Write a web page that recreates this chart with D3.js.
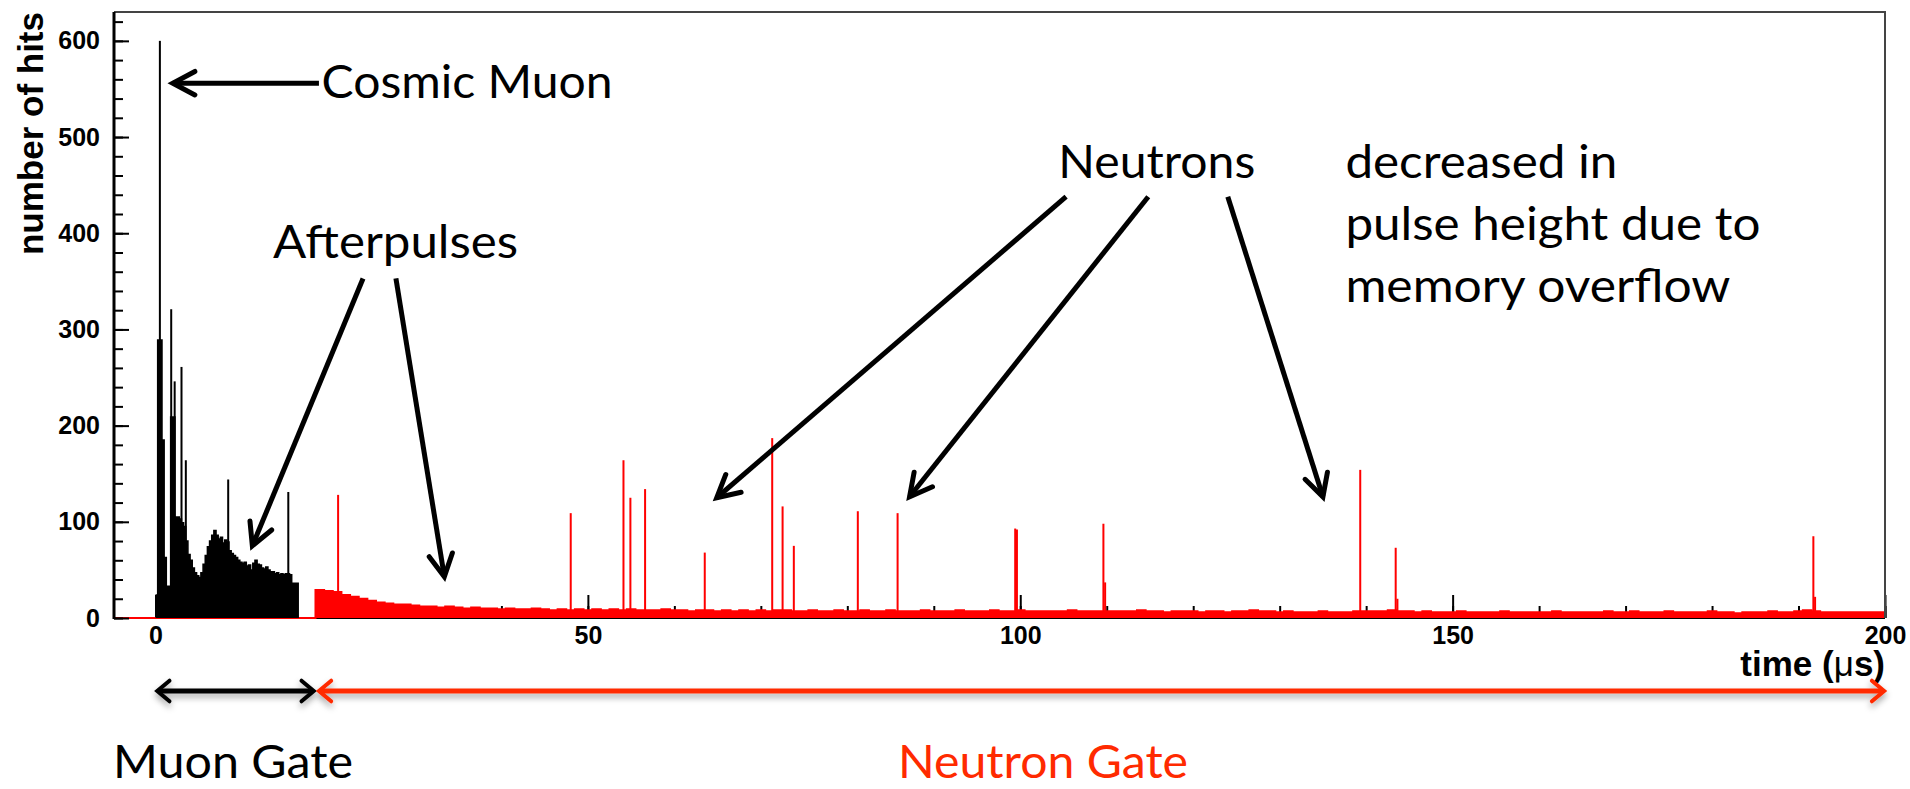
<!DOCTYPE html>
<html>
<head>
<meta charset="utf-8">
<script src="https://cdn.jsdelivr.net/npm/d3@7"></script>
<style>
  html, body { margin: 0; padding: 0; background: #fff; }
  svg { display: block; }
  .note { font-family: Lato, "Open Sans", sans-serif; font-size: 46px; fill: #000; }
  .root { font-family: "Liberation Sans", Arial, sans-serif; font-weight: bold; fill: #000; }
</style>
</head>
<body>
<svg id="chart" width="1910" height="789"></svg>
<script>
// muon gate histogram (black), 0.25 us bins starting at 0
var blackStart = 0, blackBin = 0.25;
var blackCounts = [24, 289, 289, 185, 63, 33, 33, 209, 209, 105,
                   105, 103, 99, 95, 80, 66, 60, 52, 47, 44,
                   42, 47, 56, 65, 74, 80, 86, 91, 86, 82,
                   84, 78, 81, 79, 70, 67, 65, 63, 60, 58,
                   57, 58, 54, 55, 50, 57, 60, 56, 55, 52,
                   51, 53, 50, 48, 48, 46, 47, 45, 46, 45,
                   46, 46, 45, 36, 36, 36];
// single-bin spikes on top of the black histogram
var blackSpikeT = [0.39, 1.7, 2.1, 2.89, 3.39, 8.29, 15.24];
var blackSpikeN = [600, 321, 246, 261, 164, 144, 131];

// neutron gate histogram (red), 1 us bins starting at 18.5
var redStart = 18.5, redBin = 1;
var redCounts = [29, 28, 27, 24, 22, 20, 18, 16, 15, 14,
                 14, 13, 12, 12, 11, 12, 11, 10, 11, 10,
                 10, 9, 10, 9, 9, 10, 9, 8, 9, 8,
                 9, 8, 9, 8, 9, 8, 9, 8, 8, 8,
                 9, 8, 8, 7, 8, 8, 7, 8, 7, 8,
                 7, 8, 7, 8, 8, 7, 7, 8, 7, 7,
                 8, 7, 7, 8, 7, 7, 8, 7, 7, 7,
                 8, 7, 7, 7, 8, 7, 7, 7, 8, 7,
                 7, 8, 7, 7, 7, 7, 7, 8, 7, 7,
                 7, 7, 7, 7, 7, 8, 7, 7, 6, 7,
                 7, 7, 6, 7, 7, 6, 7, 7, 8, 7,
                 7, 6, 7, 6, 6, 6, 7, 6, 6, 6,
                 7, 7, 7, 7, 8, 7, 7, 6, 7, 6,
                 6, 6, 7, 6, 6, 6, 6, 7, 6, 6,
                 6, 6, 6, 7, 6, 6, 6, 6, 6, 7,
                 6, 6, 7, 6, 6, 6, 7, 6, 6, 6,
                 6, 7, 6, 6, 5, 6, 6, 6, 7, 6,
                 6, 7, 8, 7, 6, 6, 6, 6, 6, 6,
                 6, 6];
var redSpikeT = [21.0, 47.9, 54.0, 54.8, 56.5, 63.4, 71.2, 72.4, 73.7, 81.1,
                 85.7, 99.3, 99.5, 109.5, 109.7, 139.2, 143.3, 143.5, 191.6, 191.8];
var redSpikeN = [128, 109, 164, 125, 134, 68, 187, 116, 75, 111,
                 109, 93, 92, 98, 37, 154, 73, 20, 85, 22];
var spikeWidth = 0.2;

var xTicksMajor = [0, 50, 100, 150, 200];
var yTicksMajor = [0, 100, 200, 300, 400, 500, 600];

var svg = d3.select("#chart"),
    frame = {left: 114, right: 1885, top: 12, bottom: 618},
    red = "#ff0000",
    gateRed = "#ff2a00";

var x = d3.scaleLinear().domain([-4.8, 200]).range([frame.left, frame.right]);
var y = d3.scaleLinear().domain([0, 630]).range([frame.bottom, frame.top]);

var defs = svg.append("defs");
defs.append("clipPath").attr("id", "plotclip")
    .append("rect")
    .attr("x", frame.left).attr("y", frame.top)
    .attr("width", frame.right - frame.left)
    .attr("height", frame.bottom - frame.top + 2);
defs.append("filter").attr("id", "shadow")
    .attr("x", "-5%").attr("y", "-100%").attr("width", "110%").attr("height", "300%")
    .append("feDropShadow")
    .attr("dx", 0).attr("dy", 4).attr("stdDeviation", 3)
    .attr("flood-color", "#000").attr("flood-opacity", 0.35);

// ---- x ticks (drawn first so the histograms sit over them, like ROOT) ----
var xAxisMinor = d3.axisBottom(x).tickValues(d3.range(0, 201, 10)).tickSize(-12).tickFormat("");
var xAxisMajor = d3.axisBottom(x).tickValues(xTicksMajor).tickSize(-23).tickPadding(8);

svg.append("g").attr("class", "xminor")
    .attr("transform", "translate(0," + frame.bottom + ")")
    .call(xAxisMinor)
    .call(function(g) { g.select(".domain").remove(); })
    .selectAll("line").attr("stroke", "#000").attr("stroke-width", 2);

var xg = svg.append("g").attr("class", "xmajor")
    .attr("transform", "translate(0," + frame.bottom + ")")
    .call(xAxisMajor);
xg.select(".domain").remove();
xg.selectAll("line").attr("stroke", "#000").attr("stroke-width", 2);
xg.selectAll("text").attr("class", "root").style("font-size", "25px");

svg.append("line")
    .attr("x1", frame.left).attr("x2", frame.right)
    .attr("y1", frame.bottom).attr("y2", frame.bottom)
    .attr("stroke", "#000").attr("stroke-width", 2);

// ---- histograms ----
var plot = svg.append("g").attr("clip-path", "url(#plotclip)");

function histPoints(start, bin, counts, from) {
    var pts = [];
    if (from !== undefined) pts.push({t: from, n: 0});
    counts.forEach(function(c, i) { pts.push({t: start + i * bin, n: c}); });
    pts.push({t: start + counts.length * bin, n: 0});
    return pts;
}

var stepArea = d3.area()
    .x(function(d) { return x(d.t); })
    .y0(y(0))
    .y1(function(d) { return y(d.n); })
    .curve(d3.curveStepAfter);
var stepLine = d3.line()
    .x(function(d) { return x(d.t); })
    .y(function(d) { return y(d.n); })
    .curve(d3.curveStepAfter);

var redPts = histPoints(redStart, redBin, redCounts, -4.8);
redPts.push({t: 200, n: 0});

plot.append("path")
    .datum(redPts)
    .attr("d", stepArea)
    .attr("fill", red);
plot.append("path")
    .datum(redPts)
    .attr("d", stepLine)
    .attr("fill", "none")
    .attr("stroke", red)
    .attr("stroke-width", 2);

var redSpikes = redSpikeT.map(function(t, i) { return {t: t, n: redSpikeN[i]}; });
plot.selectAll("rect.rspike")
    .data(redSpikes)
    .enter().append("rect")
    .attr("class", "rspike")
    .attr("x", function(d) { return x(d.t); })
    .attr("width", function(d) { return Math.max(2, x(d.t + spikeWidth) - x(d.t)); })
    .attr("y", function(d) { return y(d.n); })
    .attr("height", function(d) { return y(0) - y(d.n); })
    .attr("fill", red);

var blackPts = histPoints(blackStart, blackBin, blackCounts);
plot.append("path")
    .datum(blackPts)
    .attr("d", stepArea)
    .attr("fill", "#000");
plot.append("path")
    .datum(blackPts)
    .attr("d", stepLine)
    .attr("fill", "none")
    .attr("stroke", "#000")
    .attr("stroke-width", 1.5);

var blackSpikes = blackSpikeT.map(function(t, i) { return {t: t, n: blackSpikeN[i]}; });
plot.selectAll("rect.bspike")
    .data(blackSpikes)
    .enter().append("rect")
    .attr("class", "bspike")
    .attr("x", function(d) { return x(d.t); })
    .attr("width", 2)
    .attr("y", function(d) { return y(d.n); })
    .attr("height", function(d) { return y(0) - y(d.n); })
    .attr("fill", "#000");

// ---- y axis (ticks point into the frame) ----
var yAxisMinor = d3.axisLeft(y).tickValues(d3.range(0, 621, 20)).tickSize(-9).tickFormat("");
var yAxisMajor = d3.axisLeft(y).tickValues(yTicksMajor).tickSize(-15).tickPadding(14);

svg.append("g")
    .attr("transform", "translate(" + frame.left + ",0)")
    .call(yAxisMinor)
    .call(function(g) { g.select(".domain").remove(); })
    .selectAll("line").attr("stroke", "#000").attr("stroke-width", 2);

var yg = svg.append("g")
    .attr("transform", "translate(" + frame.left + ",0)")
    .call(yAxisMajor);
yg.select(".domain").remove();
yg.selectAll("line").attr("stroke", "#000").attr("stroke-width", 2);
yg.selectAll("text").attr("class", "root").style("font-size", "25px");

// frame
svg.append("path")
    .attr("d", "M" + frame.left + "," + frame.top + "H" + frame.right + "V" + frame.bottom)
    .attr("fill", "none").attr("stroke", "#444").attr("stroke-width", 2);
svg.append("line")
    .attr("x1", frame.left).attr("x2", frame.left)
    .attr("y1", frame.top).attr("y2", frame.bottom + 1)
    .attr("stroke", "#000").attr("stroke-width", 3);

// axis titles
svg.append("text")
    .attr("class", "root")
    .attr("transform", "translate(43," + frame.top + ") rotate(-90)")
    .attr("text-anchor", "end")
    .style("font-size", "35px")
    .text("number of hits");

var xt = svg.append("text")
    .attr("class", "root")
    .attr("x", frame.right).attr("y", 676)
    .attr("text-anchor", "end")
    .style("font-size", "35px");
xt.append("tspan").text("time (");
xt.append("tspan").style("font-weight", "normal").text("\u03bc");
xt.append("tspan").text("s)");

// ---- slide annotations ----
function arrowHead(tip, from, len, ang) {
    var dx = from[0] - tip[0], dy = from[1] - tip[1],
        d = Math.sqrt(dx * dx + dy * dy), ux = dx / d, uy = dy / d,
        a = ang * Math.PI / 180,
        w1 = [tip[0] + len * (ux * Math.cos(a) - uy * Math.sin(a)), tip[1] + len * (ux * Math.sin(a) + uy * Math.cos(a))],
        w2 = [tip[0] + len * (ux * Math.cos(-a) - uy * Math.sin(-a)), tip[1] + len * (ux * Math.sin(-a) + uy * Math.cos(-a))];
    return "M" + w1 + "L" + tip + "L" + w2;
}

function drawArrow(g, from, tip, opts) {
    g.append("line")
        .attr("x1", from[0]).attr("y1", from[1])
        .attr("x2", tip[0]).attr("y2", tip[1])
        .attr("stroke", opts.color).attr("stroke-width", opts.width);
    g.append("path")
        .attr("d", arrowHead(tip, from, opts.len, opts.ang))
        .attr("fill", "none").attr("stroke", opts.color)
        .attr("stroke-width", opts.width)
        .attr("stroke-linejoin", "miter").attr("stroke-linecap", "round");
}

// arrows given in data units (us, hits)
var noteArrows = [
    {from: [18.9, 556], to: [2.0, 556]},
    {from: [24.0, 353], to: [11.2, 75]},
    {from: [27.8, 353], to: [33.4, 43]},
    {from: [105.3, 438], to: [64.9, 125]},
    {from: [114.8, 438], to: [87.2, 126]},
    {from: [124.0, 438], to: [135.0, 126]}
];
var notes = svg.append("g");
noteArrows.forEach(function(a) {
    drawArrow(notes, [x(a.from[0]), y(a.from[1])], [x(a.to[0]), y(a.to[1])],
        {color: "#000", width: 5, len: 25, ang: 28});
});

var noteTexts = [
    {t: 19.2, n: 541, w: 291, s: "Cosmic Muon"},
    {t: 13.6, n: 374, w: 245, s: "Afterpulses"},
    {t: 104.4, n: 457, w: 197, s: "Neutrons"},
    {t: 137.6, n: 457, w: 272, s: "decreased in"},
    {t: 137.6, n: 393, w: 415, s: "pulse height due to"},
    {t: 137.6, n: 328, w: 385, s: "memory overflow"}
];
notes.selectAll("text.note")
    .data(noteTexts)
    .enter().append("text")
    .attr("class", "note")
    .attr("x", function(d) { return x(d.t); })
    .attr("y", function(d) { return y(d.n); })
    .attr("textLength", function(d) { return d.w; })
    .attr("lengthAdjust", "spacingAndGlyphs")
    .text(function(d) { return d.s; });

// ---- gate arrows under the axis ----
var gates = [
    {t0: 0.2, t1: 18.3, color: "#000", label: "Muon Gate", lx: 113, lw: 240},
    {t0: 18.9, t1: 199.9, color: gateRed, label: "Neutron Gate", lx: 898, lw: 290}
];
var gateY = 691;
gates.forEach(function(g) {
    var gg = svg.append("g").attr("filter", "url(#shadow)");
    var a = [x(g.t0), gateY], b = [x(g.t1), gateY];
    gg.append("line")
        .attr("x1", a[0] + 1).attr("x2", b[0] - 1)
        .attr("y1", gateY).attr("y2", gateY)
        .attr("stroke", g.color).attr("stroke-width", 5);
    gg.append("path").attr("d", arrowHead(a, b, 16, 40))
        .attr("fill", "none").attr("stroke", g.color).attr("stroke-width", 4)
        .attr("stroke-linecap", "round");
    gg.append("path").attr("d", arrowHead(b, a, 16, 40))
        .attr("fill", "none").attr("stroke", g.color).attr("stroke-width", 4)
        .attr("stroke-linecap", "round");
    svg.append("text")
        .attr("class", "note")
        .attr("x", g.lx).attr("y", 778)
        .attr("textLength", g.lw)
        .attr("lengthAdjust", "spacingAndGlyphs")
        .style("fill", g.color)
        .text(g.label);
});
</script>
</body>
</html>
